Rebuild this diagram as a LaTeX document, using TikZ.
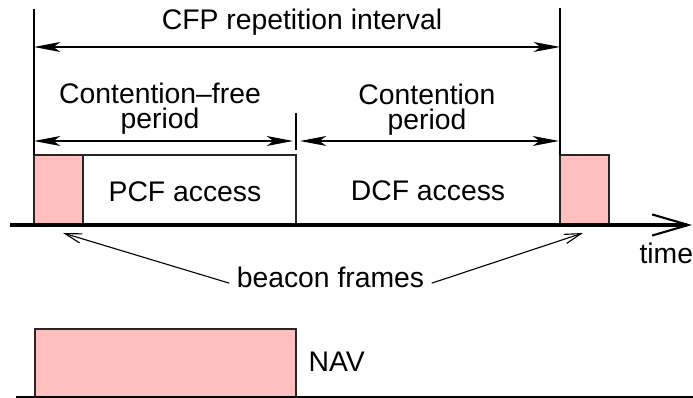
\documentclass[tikz,border=0pt]{standalone}
\usepackage{fontspec}
\setmainfont{Liberation Sans}
\usetikzlibrary{arrows.meta}
\definecolor{beaconpink}{RGB}{255,191,191}
\tikzset{
  lbl/.style={font=\fontsize{10.2}{9}\selectfont, inner sep=0pt},
  dimarrow/.style={{Stealth[length=9.5pt,width=3.6pt,inset=2.5pt]}-{Stealth[length=9.5pt,width=3.6pt,inset=2.5pt]}, line width=0.4pt},
  ptr/.style={-{Straight Barb[length=6pt,width=3.4pt]}, line width=0.4pt},
  slotbox/.style={draw=black!85, line width=0.4pt}
}
\begin{document}
\begin{tikzpicture}[x=0.36pt,y=-0.36pt]
    \useasboundingbox (0,0) rectangle (693,398);
    % slots on the time line
    \fill[beaconpink] (34,155) rectangle (83,225);
    \draw[slotbox] (34,225) -- (34,155) -- (296,155) -- (296,225);
    \draw[slotbox] (83,155) -- (83,225);
    \filldraw[slotbox,fill=beaconpink] (560,225) rectangle (609,155);
    \draw[line width=1.1pt,-{Straight Barb[length=13pt,width=7.6pt,line width=0.75pt]}] (10,225) -- (692,225);
    \node[lbl,anchor=base] (pcf) at (185,202) {PCF access};
    \node[lbl,anchor=base] (dcf) at (428,201) {DCF access};
    \node[lbl,anchor=base west] (time) at (639,264) {time};
    % interval limits
    \coordinate (cfpL) at (34,9);
    \coordinate (cfpR) at (560,8);
    \draw[line width=0.4pt] (34,155) -- (cfpL);
    \draw[line width=0.4pt] (560,155) -- (cfpR);
    \draw[line width=0.4pt] (296,113) -- (296,150);
    % interval arrows
    \coordinate (cfpA) at (34,47);
    \coordinate (cfpB) at (560,47);
    \coordinate (cfA) at (34,141);
    \coordinate (cfB) at (293,141);
    \coordinate (cpA) at (300,141);
    \coordinate (cpB) at (559,141);
    \draw[dimarrow] (cfpA) -- (cfpB);
    \draw[dimarrow] (cfA) -- (cfB);
    \draw[dimarrow] (cpA) -- (cpB);
    \node[lbl,anchor=base] (cfp) at (302,30) {CFP repetition interval};
    \node[lbl,anchor=south,align=center] (cfree) at (160,135) {Contention–free\\period};
    \node[lbl,anchor=south,align=center] (cont) at (427,136) {Contention\\period};
    % beacon frames
    \coordinate (tipL) at (63,233);
    \coordinate (tipR) at (583,233);
    \node[lbl,anchor=base,inner sep=2.5pt] (beacon) at (330.5,288) {beacon frames};
    \draw[ptr] (beacon.183) -- (tipL);
    \draw[ptr] (beacon.-3) -- (tipR);
    % NAV
    \filldraw[slotbox,fill=beaconpink] (35,397) rectangle (296,329);
    \draw[line width=0.7pt] (16,397) -- (693,397);
    \node[lbl,anchor=base west] (nav) at (308,372) {NAV};
\end{tikzpicture}
\end{document}
